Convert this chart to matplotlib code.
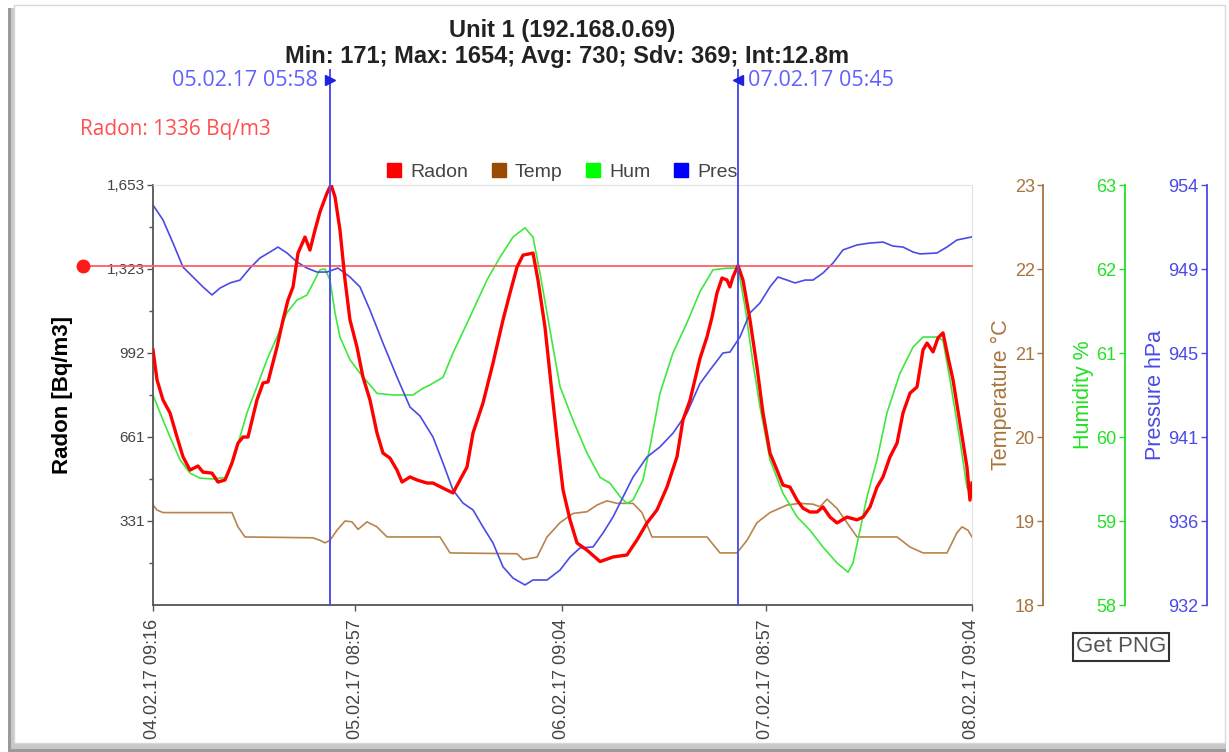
import numpy as np
import pandas as pd
import matplotlib
matplotlib.use('Agg')
import matplotlib.pyplot as plt
import matplotlib.transforms as mtransforms
import matplotlib.dates as mdates
from matplotlib.lines import Line2D
from matplotlib.patches import Rectangle

plt.rcParams['font.family'] = ['Liberation Sans', 'DejaVu Sans']

# hours since 04.02.17 09:16 and readings
radon_h = [0, 0.47, 1.17, 1.99, 2.81, 3.51, 4.33, 5.26, 5.85, 6.90, 7.60, 8.42, 9.24, 9.94,
           10.53, 11.11, 12.16, 12.87, 13.45, 14.50, 15.21, 15.79, 16.38, 16.96, 17.78,
           18.36, 18.95, 19.53, 20.35, 20.82, 21.29, 21.87, 22.46, 23.04, 23.86, 24.56,
           25.38, 26.20, 26.90, 27.72, 28.54, 29.13, 30.06, 30.88, 32.05, 32.75, 33.92,
           35.09, 35.91, 36.73, 37.43, 38.60, 39.77, 40.94, 41.76, 42.58, 43.28, 44.45,
           45.03, 45.85, 46.67, 47.37, 47.96, 48.78, 49.60, 50.76, 52.29, 53.81, 55.44,
           56.61, 57.78, 58.95, 60.12, 61.29, 61.99, 62.81, 63.98, 64.80, 65.39, 65.97,
           66.56, 67.14, 67.49, 67.84, 68.43, 69.01, 69.83, 70.65, 71.35, 72.17, 72.99,
           73.69, 74.51, 75.33, 76.03, 76.85, 77.67, 78.37, 79.19, 80.01, 81.18, 82.35,
           83.05, 83.87, 84.69, 85.39, 86.21, 87.03, 87.73, 88.55, 89.37, 90.07, 90.54,
           91.24, 91.82, 92.41, 92.99, 93.58, 94.39, 95.21, 95.56, 95.8]
radon_v = [1004, 886, 807, 756, 661, 583, 531, 547, 523, 519, 484, 492, 559, 637,
           661, 661, 807, 874, 878, 1015, 1122, 1200, 1252, 1385, 1448,
           1397, 1476, 1547, 1621, 1654, 1606, 1476, 1279, 1122, 1015, 897,
           807, 677, 598, 578, 531, 484, 504, 492, 480, 480, 460,
           441, 492, 543, 677, 795, 952, 1122, 1228, 1330, 1377, 1385,
           1279, 1094, 834, 622, 453, 335, 244, 216, 171, 189, 197,
           256, 323, 374, 464, 583, 728, 805, 970, 1055, 1133, 1228,
           1287, 1279, 1252, 1291, 1336, 1279, 1122, 936, 756, 598, 531,
           472, 464, 413, 381, 366, 366, 386, 346, 323, 346, 335,
           346, 386, 464, 504, 583, 637, 756, 834, 858, 1004, 1031,
           996, 1051, 1071, 976, 886, 716, 543, 413, 480]

temp_h = [0, 0.47, 1.17, 9.24, 9.94, 10.76, 18.72, 19.53, 20.12, 20.70, 21.52, 22.46,
          23.28, 23.98, 25.03, 26.20, 27.37, 33.57, 34.74, 42.58, 43.28, 44.92, 46.09,
          47.61, 49.13, 50.76, 51.93, 53.10, 54.27, 56.15, 57.20, 58.37, 64.80, 66.32,
          68.31, 69.48, 70.65, 72.17, 74.16, 75.68, 77.20, 78.02, 78.84, 80.01, 81.18,
          82.35, 87.03, 88.55, 90.07, 92.87, 94.04, 94.63, 95.33, 95.8]
temp_v = [19.19, 19.13, 19.10, 19.10, 18.93, 18.81, 18.80, 18.77, 18.74, 18.77, 18.89, 19.0,
          18.99, 18.90, 18.99, 18.93, 18.81, 18.81, 18.62, 18.61, 18.54, 18.57, 18.81,
          18.98, 19.09, 19.11, 19.19, 19.24, 19.21, 19.21, 19.10, 18.81, 18.81, 18.62,
          18.62, 18.77, 18.98, 19.10, 19.19, 19.21, 19.20, 19.17, 19.26, 19.15, 18.98,
          18.81, 18.81, 18.69, 18.62, 18.62, 18.86, 18.93, 18.89, 18.81]

hum_h = [0, 0.82, 1.99, 3.16, 4.33, 5.50, 7.02, 8.66, 9.83, 11.0, 12.16, 13.33, 14.50,
         15.67, 16.84, 18.01, 18.72, 19.53, 20.12, 20.70, 21.29, 21.87, 23.04, 24.21,
         26.20, 28.07, 30.41, 31.58, 32.40, 33.92, 35.09, 37.08, 39.07, 40.59, 42.11,
         43.51, 44.45, 45.27, 46.44, 47.61, 49.13, 50.76, 52.29, 53.46, 54.63, 55.44,
         56.15, 57.32, 58.13, 59.30, 60.82, 62.46, 63.98, 65.50, 67.14, 68.43, 69.25,
         70.18, 71.00, 72.17, 73.69, 75.33, 76.85, 78.37, 80.01, 81.30, 81.88, 82.70,
         83.52, 84.69, 85.86, 87.38, 88.90, 90.07, 91.70, 92.41, 93.23, 94.39, 95.21, 95.8]
hum_v = [60.50, 60.29, 60.0, 59.73, 59.57, 59.51, 59.50, 59.52, 59.88, 60.29, 60.60, 60.92, 61.19,
         61.48, 61.63, 61.69, 61.83, 61.99, 62.0, 61.87, 61.48, 61.19, 60.92, 60.76,
         60.52, 60.50, 60.50, 60.58, 60.62, 60.71, 61.0, 61.43, 61.87, 62.14, 62.38,
         62.49, 62.38, 61.95, 61.27, 60.6, 60.2, 59.81, 59.52, 59.45, 59.29, 59.21,
         59.25, 59.49, 59.88, 60.52, 61.0, 61.36, 61.73, 61.99, 62.01, 62.01, 61.55,
         60.88, 60.36, 59.73, 59.33, 59.05, 58.89, 58.69, 58.5, 58.39, 58.5, 58.89,
         59.29, 59.73, 60.29, 60.76, 61.07, 61.19, 61.19, 61.15, 60.68, 59.96, 59.40, 59.29]

pres_h = [0, 1.17, 2.34, 3.51, 4.68, 5.85, 6.90, 7.84, 9.01, 10.18, 11.35, 12.52, 13.69,
          14.62, 15.67, 16.84, 18.01, 19.18, 20.35, 21.64, 23.04, 24.21, 25.38, 26.90,
          28.54, 30.06, 31.23, 32.75, 33.92, 35.09, 36.26, 37.43, 38.60, 39.77, 40.94,
          42.11, 43.51, 44.45, 46.09, 47.61, 48.78, 49.95, 51.47, 52.64, 53.81, 54.98,
          56.15, 57.78, 59.30, 60.82, 62.46, 63.98, 65.15, 66.67, 67.49, 68.66, 69.83,
          71.00, 72.17, 73.10, 74.16, 75.09, 76.26, 77.20, 78.37, 79.54, 80.71, 82.35,
          83.87, 85.39, 86.56, 87.73, 88.90, 89.72, 91.70, 92.87, 94.04, 95.8]
pres_v = [952.95, 952.17, 950.96, 949.70, 949.18, 948.66, 948.24, 948.60, 948.87, 949.02, 949.65, 950.18, 950.49,
          950.75, 950.44, 949.97, 949.65, 949.44, 949.44, 949.65, 949.18, 948.66, 947.45, 945.72,
          943.94, 942.37, 941.9, 940.8, 939.44, 938.02, 937.34, 936.98, 936.09, 935.25, 934.0,
          933.41, 933.05, 933.31, 933.31, 933.83, 934.51, 934.99, 935.04, 935.77, 936.61, 937.66,
          938.70, 939.75, 940.28, 941.0, 942.06, 943.6, 944.31, 945.20, 945.25, 946.04, 947.30,
          947.82, 948.66, 949.18, 949.02, 948.87, 949.02, 949.02, 949.39, 949.91, 950.60, 950.86,
          950.96, 951.01, 950.80, 950.75, 950.49, 950.39, 950.44, 950.75, 951.12, 951.28]

start = pd.Timestamp('2017-02-04 09:16')
end = pd.Timestamp('2017-02-08 09:04')
tick_times = ['2017-02-04 09:16', '2017-02-05 08:57', '2017-02-06 09:04',
              '2017-02-07 08:57', '2017-02-08 09:04']
tick_labels = ['04.02.17 09:16', '05.02.17 08:57', '06.02.17 09:04',
               '07.02.17 08:57', '08.02.17 09:04']
cursors = ['2017-02-05 05:58', '2017-02-07 05:45']
cursor_labels = ['05.02.17 05:58', '07.02.17 05:45']
radon_cursor = 1336

radon_ticks = [330.6, 661.2, 991.8, 1322.4, 1653]
radon_ticklabels = ['331', '661', '992', '1,323', '1,653']
pres_ticks = [932, 936.4, 940.8, 945.2, 949.6, 954]
pres_ticklabels = ['932', '936', '941', '945', '949', '954']

def to_time(hours):
    return start + pd.to_timedelta(np.array(hours), unit='h')

RED = '#ff0000'
BROWN = '#b8844c'
GREEN = '#3ee83e'
BLUE = '#4a4ae8'
UI_FONT = ['Open Sans', 'DejaVu Sans']

W, H = 1229, 752
fig = plt.figure(figsize=(W / 100, H / 100), dpi=100)

# page frame with shadow on left / bottom
fig.patches.append(Rectangle((8 / W, 0), 1218 / W, 744 / H, transform=fig.transFigure,
                             facecolor='#9a9a9a', edgecolor='none', zorder=-3))
fig.patches.append(Rectangle((11 / W, 3 / H), 1215 / W, 741 / H, transform=fig.transFigure,
                             facecolor='#c8c8c8', edgecolor='none', zorder=-2))
fig.patches.append(Rectangle((14 / W, 9 / H), 1211 / W, 738 / H, transform=fig.transFigure,
                             facecolor='white', edgecolor='#d8d8d8', lw=1, zorder=-1))

ax = fig.add_axes([153 / W, 1 - 605 / H, 819 / W, 420 / H])
ax.set_zorder(5)
ax.patch.set_visible(False)

ax_t = ax.twinx()
ax_h = ax.twinx()
ax_p = ax.twinx()
for a in (ax_t, ax_h, ax_p):
    a.set_zorder(1)

ax_t.plot(to_time(temp_h), temp_v, color=BROWN, lw=1.2)
ax_h.plot(to_time(hum_h), hum_v, color=GREEN, lw=1.2)
ax_p.plot(to_time(pres_h), pres_v, color=BLUE, lw=1.2)
ax.plot(to_time(radon_h), radon_v, color=RED, lw=2.4, zorder=4)

ax.set_xlim(start, end)
ax.set_ylim(0, 1653)
ax_t.set_ylim(18, 23)
ax_h.set_ylim(58, 63)
ax_p.set_ylim(932, 954)

# left radon axis
ax.set_yticks(radon_ticks, radon_ticklabels)
ax.set_yticks([165.3, 495.9, 826.5, 1157.1, 1487.7], minor=True)
ax.tick_params(axis='y', which='major', length=4, width=1, color='#555555',
               labelsize=11, labelcolor='#444444', pad=2)
ax.tick_params(axis='y', which='minor', length=3, width=1, color='#555555')
ax.set_ylabel('Radon [Bq/m3]', fontsize=16, fontweight='bold', labelpad=24)

ax.set_xticks(pd.to_datetime(tick_times), tick_labels, rotation=90)
ax.tick_params(axis='x', length=4, width=1, color='#555555', labelsize=13,
               labelcolor='#444444', pad=6)
for side in ('left', 'bottom'):
    ax.spines[side].set_color('#555555')
    ax.spines[side].set_linewidth(1.3)
for side in ('top', 'right'):
    ax.spines[side].set_color('#e2e2e2')

# right-hand axes drawn as left-style axes out to the right
for a, pos, col, label in ((ax_t, 1.0867, '#a8743e', 'Temperature °C'),
                           (ax_h, 1.1868, '#22e022', 'Humidity %'),
                           (ax_p, 1.2870, '#4a4ae8', 'Pressure hPa')):
    for s in a.spines.values():
        s.set_visible(False)
    a.spines['left'].set_visible(True)
    a.spines['left'].set_position(('axes', pos))
    a.spines['left'].set_color(col)
    a.spines['left'].set_linewidth(1.3)
    a.yaxis.set_ticks_position('left')
    a.yaxis.set_label_position('left')
    a.tick_params(axis='y', length=4, width=1, color=col, labelcolor=col,
                  labelsize=13, pad=2)
    a.set_ylabel(label, color=col, fontsize=15.5, labelpad=2)

ax_t.set_yticks([18, 19, 20, 21, 22, 23])
ax_h.set_yticks([58, 59, 60, 61, 62, 63])
ax_p.set_yticks(pres_ticks, pres_ticklabels)

# cursors
line_top = (605 - 70) / 420
mark_y = (605 - 80) / 420
xdata_yaxes = mtransforms.blended_transform_factory(ax.transData, ax.transAxes)
for i, (c, lab) in enumerate(zip(cursors, cursor_labels)):
    cx = mdates.date2num(pd.Timestamp(c))
    ax.axvline(pd.Timestamp(c), ymin=0, ymax=line_top, color='#5050f0', lw=1.4,
               clip_on=False, zorder=6)
    ax.plot([cx], [mark_y], marker='>' if i == 0 else '<', color='#2020e0',
            markersize=7, transform=xdata_yaxes, clip_on=False, zorder=7)
    off = -12 if i == 0 else 10
    ax.annotate(lab, xy=(cx, mark_y), xycoords=xdata_yaxes,
                xytext=(off, 0), textcoords='offset pixels',
                ha='right' if i == 0 else 'left', va='center',
                color='#6060ff', fontsize=15.5, family=UI_FONT)

# radon cursor value
xaxes_ydata = mtransforms.blended_transform_factory(ax.transAxes, ax.transData)
dot_x = (83 - 153) / 819
ax.plot([dot_x, 1], [radon_cursor, radon_cursor], color='#ff6060', lw=1.3,
        transform=xaxes_ydata, clip_on=False, zorder=3)
ax.plot([dot_x], [radon_cursor], 'o', color='#ff1a1a', markersize=9,
        transform=xaxes_ydata, clip_on=False, zorder=7)
fig.text(80 / W, 1 - 130 / H, 'Radon: %d Bq/m3' % radon_cursor, color='#ff5050',
         fontsize=15, ha='left', va='center', family=UI_FONT)

# titles
fig.text(562 / W, 1 - 37 / H, 'Unit 1 (192.168.0.69)', ha='center', va='baseline',
         fontsize=17, fontweight='bold', color='#222222')
fig.text(567 / W, 1 - 63 / H, 'Min: 171; Max: 1654; Avg: 730; Sdv: 369; Int:12.8m',
         ha='center', va='baseline', fontsize=17, fontweight='bold', color='#222222')

# legend
handles = [Line2D([], [], marker='s', ls='none', color=c, markersize=10)
           for c in ('#ff0000', '#994c00', '#00ff00', '#0000ff')]
fig.legend(handles, ['Radon', 'Temp', 'Hum', 'Pres'], loc='center',
           bbox_to_anchor=(561 / W, 1 - 172 / H), ncol=4, frameon=False,
           fontsize=14, handletextpad=0.3, columnspacing=1.1, labelcolor='#444444',
           handlelength=1.0)

# button
fig.text(1121 / W, 1 - 647 / H, 'Get PNG', ha='center', va='center', fontsize=16,
         color='#555555', bbox=dict(boxstyle='square,pad=0.15', fc='white', ec='#333333', lw=1.5))

fig.savefig('out.png', dpi=100)
